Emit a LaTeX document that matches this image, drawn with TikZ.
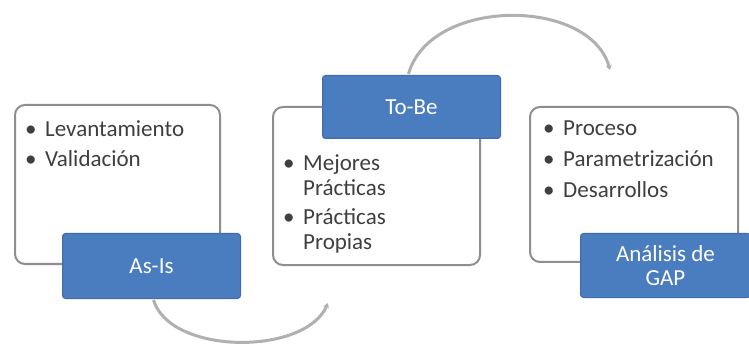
\documentclass[tikz,border=0pt]{standalone}
\usepackage{fontspec}
\setmainfont{Carlito}
\usetikzlibrary{arrows.meta,calc}
\definecolor{bluebox}{HTML}{4A7CC0}
\definecolor{blueedge}{HTML}{3F6CAE}
\definecolor{grayedge}{HTML}{8E8E8E}
\definecolor{arcgray}{HTML}{B0B0B0}
\definecolor{txtgray}{HTML}{3F3F3F}
\newcommand{\bitem}[1]{\par\hangindent=20pt\hangafter=1\noindent\makebox[20pt][l]{\textbullet}#1}
\begin{document}
\begin{tikzpicture}[x=1pt,y=-1pt,
  panel/.style={draw=grayedge,line width=2pt,fill=white,rounded corners=10pt},
  tag/.style={draw=blueedge,line width=1pt,fill=bluebox,rounded corners=3pt},
  tagtext/.style={text=white,font=\fontsize{23}{24}\selectfont,align=center,inner sep=0pt},
  listtext/.style={anchor=north west,inner sep=0pt,text=txtgray,text width=#1,font=\fontsize{23}{25}\selectfont},
  cycle/.style={draw=arcgray,line width=3pt,-{Stealth[length=5pt,width=6pt]}}
]
\useasboundingbox (0,0) rectangle (749,347);
\fill[white] (0,0) rectangle (749,347);
% white panels
\draw[panel] (15,105) rectangle (220,264);
\draw[panel] (273,107) rectangle (480,265);
\draw[panel] (530,107) rectangle (738,262);
% lists
\node[listtext=195pt] (l1) at (25,106) {\parskip=5pt\bitem{Levantamiento}\bitem{Validación}\par};
\node[listtext=185pt] (l2) at (283,141) {\parskip=4pt\bitem{Mejores\newline Prácticas}\bitem{Prácticas\newline Propias}\par};
\node[listtext=200pt] (l3) at (543,104) {\parskip=6pt\bitem{Proceso}\bitem{Parametrización}\bitem{Desarrollos}\par};
% blue tags
\node[tag,minimum width=178pt,minimum height=65pt,anchor=north west] (asis) at (62,233) {};
\node[tagtext] at (asis.center) {As-Is};
\node[tag,minimum width=178pt,minimum height=63pt,anchor=north west] (tobe) at (322,75) {};
\node[tagtext] at (tobe.center) {To-Be};
\node[tag,minimum width=170pt,minimum height=64pt,anchor=north west] (gap) at (580,233) {};
\node[tagtext] at (gap.center) {Análisis de\\GAP};
% arcs
\coordinate (e1) at (328,303);
\coordinate (e2) at (610,70);
\draw[cycle] ($(asis.south)+(2,1)$) .. controls (170,355) and (305,356) .. (e1);
\draw[cycle] ($(tobe.north)+(-3,-1)$) .. controls (430,-3) and (590,-3) .. (e2);
\end{tikzpicture}
\end{document}
